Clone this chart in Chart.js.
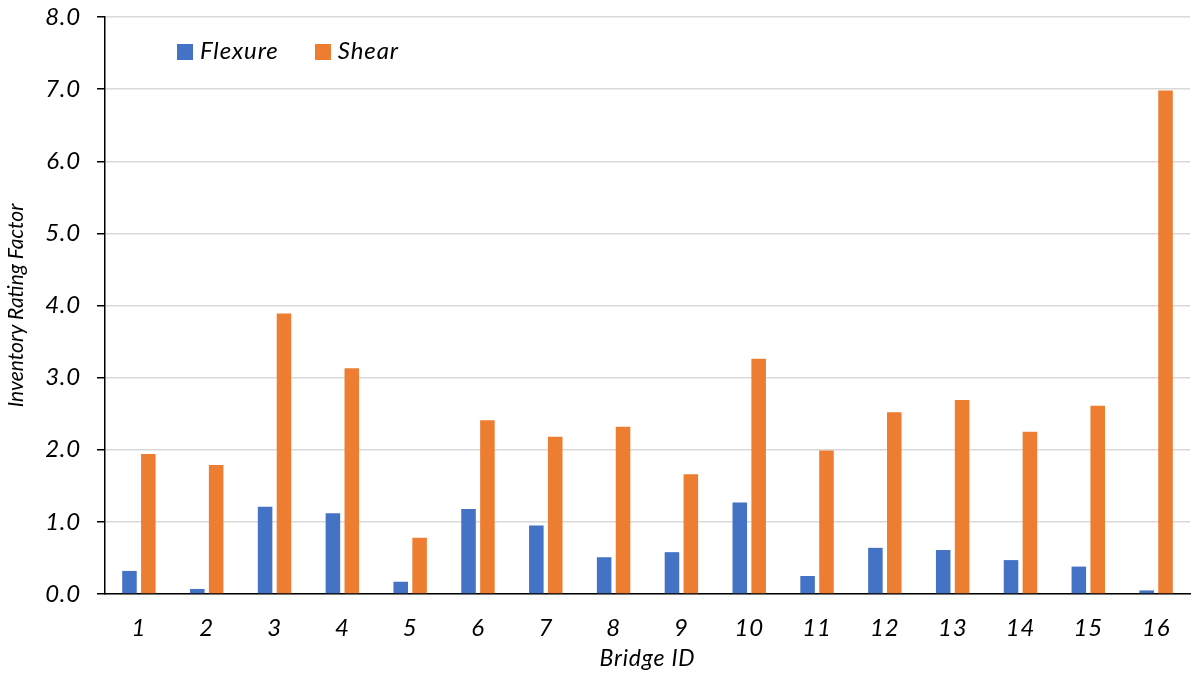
<!DOCTYPE html>
<html>
<head>
<meta charset="utf-8">
<script src="https://cdn.jsdelivr.net/npm/chart.js@4.4.1/dist/chart.umd.min.js"></script>
<style>
  html, body { margin: 0; padding: 0; background: #fff; }
  #wrap { position: relative; width: 1200px; height: 676px; }
  #legend {
    position: absolute; left: 177px; top: 35px;
    font-family: Lato, sans-serif; font-style: italic; font-size: 24px; color: #000;
    letter-spacing: 0.9px; display: flex; gap: 36px; line-height: 30px;
  }
  #legend span.sw { display: inline-block; width: 16px; height: 16px; margin-right: 7px; vertical-align: -1px; }
</style>
</head>
<body>
<div id="wrap">
  <canvas id="chart" width="1200" height="676"></canvas>
  <div id="legend"></div>
</div>
<script>
const bridgeIds = ["1", "2", "3", "4", "5", "6", "7", "8", "9", "10", "11", "12", "13", "14", "15", "16"];
const flexure = [0.32, 0.07, 1.21, 1.12, 0.17, 1.18, 0.95, 0.51, 0.58, 1.27, 0.25, 0.64, 0.61, 0.47, 0.38, 0.05];
const shear = [1.94, 1.79, 3.89, 3.13, 0.78, 2.41, 2.18, 2.32, 1.66, 3.26, 1.99, 2.52, 2.69, 2.25, 2.61, 6.98];
const yTicks = [0, 1, 2, 3, 4, 5, 6, 7, 8];

const font = "Lato, sans-serif";
const blue = "#4472c4";
const orange = "#ed7d31";
const spacing = "0.8px";

const series = [
  { label: "Flexure", data: flexure, color: blue },
  { label: "Shear", data: shear, color: orange },
];

document.getElementById("legend").innerHTML = series
  .map((s) => `<div><span class="sw" style="background:${s.color}"></span>${s.label}</div>`)
  .join("");

// the source text is a bit wider than Lato, so widen horizontal text only
const wideText = {
  id: "wideText",
  beforeLayout(chart) { chart.ctx.letterSpacing = spacing; },
  afterLayout(chart) {
    const y = chart.scales.y;
    const orig = y.drawTitle;
    y.drawTitle = function (area) {
      const ctx = this.ctx;
      ctx.letterSpacing = "0px";
      orig.call(this, area);
      ctx.letterSpacing = spacing;
    };
  },
  beforeDraw(chart) { chart.ctx.letterSpacing = spacing; },
};

new Chart(document.getElementById("chart"), {
  type: "bar",
  data: {
    labels: bridgeIds,
    datasets: series.map((s) => ({
      label: s.label,
      data: s.data,
      backgroundColor: s.color,
      categoryPercentage: 0.557,
      barPercentage: 0.77,
    })),
  },
  options: {
    responsive: false,
    animation: false,
    layout: { padding: { top: 17, right: 10, left: 0, bottom: 0 } },
    plugins: { legend: { display: false }, tooltip: { enabled: false } },
    scales: {
      x: {
        grid: { display: false },
        border: { display: true, color: "#000", width: 1.5 },
        ticks: { color: "#000", font: { family: font, style: "italic", size: 24 }, padding: 12 },
        title: {
          display: true,
          text: "Bridge ID",
          color: "#000",
          font: { family: font, style: "italic", size: 23 },
          padding: { top: 0 },
        },
        afterFit: (s) => { s.height = 82; },
      },
      y: {
        min: 0,
        max: 8,
        afterBuildTicks: (s) => { s.ticks = yTicks.map((v) => ({ value: v })); },
        grid: { color: "#d9d9d9", lineWidth: 1.5, tickColor: "#000", tickLength: 8 },
        border: { display: true, color: "#000", width: 1.5 },
        ticks: {
          color: "#000",
          padding: 16,
          font: { family: font, style: "italic", size: 24 },
          callback: (v) => v.toFixed(1),
        },
        title: {
          display: true,
          text: "Inventory Rating Factor",
          color: "#000",
          font: { family: font, style: "italic", size: 21 },
          padding: { bottom: 5 },
        },
        afterFit: (s) => { s.width = 105; s.paddingTop = 0; s.paddingBottom = 0; },
      },
    },
  },
  plugins: [wideText],
});
</script>
</body>
</html>
